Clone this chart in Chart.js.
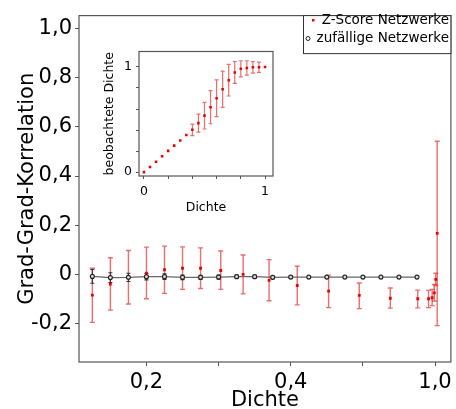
<!DOCTYPE html>
<html>
<head>
<meta charset="utf-8">
<script src="https://cdn.jsdelivr.net/npm/chart.js@4.4.0/dist/chart.umd.min.js"></script>
<style>
  body { margin: 0; background: #fff; }
  #wrap { position: relative; width: 456px; height: 409px; }
  #main { position: absolute; left: 0; top: 0; }
  #inset { position: absolute; left: 100px; top: 40px; }
</style>
</head>
<body>
<div id="wrap">
  <canvas id="main" width="456" height="409"></canvas>
  <canvas id="inset" width="180" height="180"></canvas>
</div>
<script>
// main plot: Z-Score networks (red) and random networks (black)
const redX = [0.125, 0.15, 0.175, 0.2, 0.225, 0.25, 0.275, 0.303, 0.334, 0.37, 0.409, 0.4525, 0.495, 0.538, 0.576, 0.591, 0.596, 0.599, 0.601, 0.603];
const redY = [-0.084, -0.039, -0.012, 0.005, 0.019, 0.025, 0.025, 0.016, 0, -0.024, -0.045, -0.068, -0.085, -0.097, -0.099, -0.099, -0.095, -0.075, -0.02, 0.167];
const redHi = [0.025, 0.068, 0.097, 0.111, 0.115, 0.112, 0.108, 0.095, 0.079, 0.06, 0.033, -0.003, -0.035, -0.055, -0.064, -0.065, -0.061, -0.041, 0.005, 0.541];
const redLo = [-0.195, -0.145, -0.12, -0.099, -0.077, -0.061, -0.057, -0.061, -0.079, -0.107, -0.124, -0.135, -0.139, -0.137, -0.136, -0.135, -0.127, -0.108, -0.045, -0.208];

const blackX = [0.125, 0.15, 0.175, 0.2, 0.225, 0.25, 0.275, 0.3, 0.325, 0.35, 0.375, 0.4, 0.425, 0.45, 0.475, 0.5, 0.525, 0.55, 0.575];
const blackY = [-0.008, -0.013, -0.012, -0.009, -0.009, -0.012, -0.012, -0.011, -0.009, -0.009, -0.012, -0.011, -0.011, -0.011, -0.011, -0.011, -0.011, -0.011, -0.011];
const blackErr = [0.028, 0.02, 0.017, 0.013, 0.011, 0.009, 0.008, 0.008, 0.006, 0.005, 0.005, 0.004, 0, 0, 0, 0, 0, 0, 0];

const xTickValues = [0.2, 0.3, 0.4, 0.5, 0.6];
const xTickLabels = ['0,2', '', '0,4', '', '1,0'];
const yTickValues = [-0.2, 0, 0.2, 0.4, 0.6, 0.8, 1.0];
const yTickLabels = ['-0,2', '0', '0,2', '0,4', '0,6', '0,8', '1,0'];

// inset: observed vs nominal density
const insetX = [0, 0.05, 0.1, 0.15, 0.2, 0.25, 0.3, 0.35, 0.4, 0.45, 0.5, 0.55, 0.6, 0.65, 0.7, 0.75, 0.8, 0.85, 0.9, 0.95, 1.0];
const insetY = [0, 0.049, 0.098, 0.15, 0.202, 0.252, 0.301, 0.353, 0.402, 0.466, 0.537, 0.617, 0.702, 0.788, 0.874, 0.948, 0.982, 0.991, 0.997, 0.997, 1.0];
const insetErr = [0, 0, 0, 0, 0, 0, 0, 0, 0.055, 0.085, 0.127, 0.157, 0.175, 0.172, 0.15, 0.104, 0.077, 0.068, 0.055, 0.049, 0];
const insetTickValues = [0, 0.2, 0.4, 0.6, 0.8, 1.0];
const insetTickLabels = ['0', '', '', '', '', '1'];

const FONT = 'DejaVu Sans';

const errorBars = {
  id: 'errorBars',
  beforeDatasetsDraw(chart, args, opts) {
    const {ctx, scales: {x, y}} = chart;
    ctx.save();
    opts.sets.forEach(s => {
      ctx.strokeStyle = s.color;
      ctx.lineWidth = s.width;
      s.x.forEach((xv, i) => {
        if (s.hi[i] === s.lo[i]) return;
        const px = x.getPixelForValue(xv);
        const top = y.getPixelForValue(s.hi[i]);
        const bot = y.getPixelForValue(s.lo[i]);
        ctx.beginPath();
        ctx.moveTo(px, top); ctx.lineTo(px, bot);
        ctx.moveTo(px - s.cap, top); ctx.lineTo(px + s.cap, top);
        ctx.moveTo(px - s.cap, bot); ctx.lineTo(px + s.cap, bot);
        ctx.stroke();
      });
    });
    ctx.restore();
  }
};

const frame = {
  id: 'frame',
  beforeDraw(chart) {
    const {ctx, chartArea: a} = chart;
    ctx.save();
    ctx.fillStyle = '#fff';
    ctx.fillRect(a.left, a.top, a.right - a.left, a.bottom - a.top);
    ctx.restore();
  },
  afterDraw(chart) {
    const {ctx, chartArea: a} = chart;
    ctx.save();
    ctx.strokeStyle = '#555';
    ctx.lineWidth = 1.2;
    ctx.strokeRect(a.left, a.top, a.right - a.left, a.bottom - a.top);
    ctx.restore();
  }
};

const boxLegend = {
  id: 'boxLegend',
  afterDraw(chart) {
    const {ctx, chartArea: a} = chart;
    ctx.save();
    ctx.fillStyle = '#fff';
    ctx.fillRect(303, a.top, a.right - 303, 38);
    ctx.strokeStyle = '#333';
    ctx.lineWidth = 1;
    ctx.strokeRect(303.5, a.top, a.right - 303.5, 38);
    ctx.font = '13.5px "' + FONT + '"';
    ctx.fillStyle = '#000';
    ctx.textAlign = 'right';
    ctx.textBaseline = 'middle';
    ctx.fillText('Z-Score Netzwerke', 449, 20);
    ctx.fillText('zufällige Netzwerke', 449, 38);
    ctx.fillStyle = '#e00';
    ctx.fillRect(312, 19, 2.5, 2.5);
    ctx.strokeStyle = '#222';
    ctx.beginPath();
    ctx.arc(308, 38.5, 2, 0, Math.PI * 2);
    ctx.stroke();
    ctx.restore();
  }
};

new Chart(document.getElementById('main'), {
  type: 'scatter',
  data: {
    datasets: [
      {
        label: 'Z-Score Netzwerke',
        data: redX.map((x, i) => ({x: x, y: redY[i]})),
        pointStyle: 'rect',
        pointRadius: 2,
        backgroundColor: '#e00',
        borderColor: '#e00',
        borderWidth: 0,
        order: 2
      },
      {
        label: 'zufällige Netzwerke',
        data: blackX.map((x, i) => ({x: x, y: blackY[i]})),
        showLine: true,
        borderColor: '#666',
        borderWidth: 1.1,
        pointStyle: 'circle',
        pointRadius: 2,
        pointBackgroundColor: '#ddd',
        pointBorderColor: '#222',
        pointBorderWidth: 1.1,
        order: 1
      }
    ]
  },
  options: {
    responsive: false,
    animation: false,
    layout: { padding: { left: 0, top: 10, right: 2, bottom: 0 } },
    plugins: {
      legend: { display: false },
      tooltip: { enabled: false },
      errorBars: {
        sets: [
          { x: redX, hi: redHi, lo: redLo, color: 'rgba(225,30,30,0.65)', width: 1.4, cap: 2.5 },
          { x: blackX, hi: blackY.map((v, i) => v + blackErr[i]), lo: blackY.map((v, i) => v - blackErr[i]), color: '#333', width: 1.1, cap: 2 }
        ]
      }
    },
    scales: {
      x: {
        type: 'linear',
        position: 'bottom',
        min: 0.1065,
        max: 0.622,
        afterBuildTicks: s => { s.ticks = xTickValues.map(v => ({value: v})); },
        afterFit: s => { s.height = 47; },
        ticks: {
          callback: (v, i) => xTickLabels[i],
          autoSkip: false,
          maxRotation: 0,
          padding: 4,
          color: '#000',
          font: { family: FONT, size: 21 }
        },
        grid: { drawOnChartArea: false, drawTicks: true, tickLength: 4, color: '#555' },
        border: { display: false },
        title: {
          display: true,
          text: 'Dichte',
          color: '#000',
          font: { family: FONT, size: 21, lineHeight: 0.8 },
          padding: { top: 0, bottom: 0 }
        }
      },
      y: {
        type: 'linear',
        min: -0.356,
        max: 1.052,
        afterBuildTicks: s => { s.ticks = yTickValues.map(v => ({value: v})); },
        afterFit: s => { s.width = 79; },
        ticks: {
          callback: (v, i) => yTickLabels[i],
          autoSkip: false,
          padding: 3,
          color: '#000',
          font: { family: FONT, size: 21 }
        },
        grid: { drawOnChartArea: false, drawTicks: true, tickLength: 4, color: '#555' },
        border: { display: false },
        title: {
          display: true,
          text: 'Grad-Grad-Korrelation',
          color: '#000',
          font: { family: FONT, size: 21, lineHeight: 1.2 },
          padding: { top: 15, bottom: 0 }
        }
      }
    }
  },
  plugins: [frame, errorBars, boxLegend]
});

new Chart(document.getElementById('inset'), {
  type: 'scatter',
  data: {
    datasets: [{
      data: insetX.map((x, i) => ({x: x, y: insetY[i]})),
      pointStyle: 'rect',
      pointRadius: 1.8,
      backgroundColor: '#e00',
      borderColor: '#e00',
      borderWidth: 0
    }]
  },
  options: {
    responsive: false,
    animation: false,
    layout: { padding: { left: 0, top: 7, right: 7, bottom: 0 } },
    plugins: {
      legend: { display: false },
      tooltip: { enabled: false },
      errorBars: {
        sets: [
          { x: insetX, hi: insetY.map((v, i) => v + insetErr[i]), lo: insetY.map((v, i) => v - insetErr[i]), color: 'rgba(225,30,30,0.65)', width: 1.2, cap: 2 }
        ]
      }
    },
    scales: {
      x: {
        type: 'linear',
        min: -0.041,
        max: 1.066,
        afterBuildTicks: s => { s.ticks = insetTickValues.map(v => ({value: v})); },
        afterFit: s => { s.height = 44; },
        ticks: {
          callback: (v, i) => insetTickLabels[i],
          autoSkip: false,
          maxRotation: 0,
          padding: 5,
          color: '#000',
          font: { family: FONT, size: 12.5 }
        },
        grid: { drawOnChartArea: false, drawTicks: true, tickLength: 3, color: '#555' },
        border: { display: false },
        title: {
          display: true,
          text: 'Dichte',
          color: '#000',
          font: { family: FONT, size: 12.5, lineHeight: 1.2 },
          padding: { top: 0, bottom: 4.5 }
        }
      },
      y: {
        type: 'linear',
        min: -0.037,
        max: 1.147,
        afterBuildTicks: s => { s.ticks = insetTickValues.map(v => ({value: v})); },
        afterFit: s => { s.width = 39; },
        ticks: {
          callback: (v, i) => insetTickLabels[i],
          autoSkip: false,
          padding: 4,
          color: '#000',
          font: { family: FONT, size: 12.5 }
        },
        grid: { drawOnChartArea: false, drawTicks: true, tickLength: 3, color: '#555' },
        border: { display: false },
        title: {
          display: true,
          text: 'beobachtete Dichte',
          color: '#000',
          font: { family: FONT, size: 12.5, lineHeight: 1.2 },
          padding: { top: 2.5, bottom: 0 }
        }
      }
    }
  },
  plugins: [frame, errorBars]
});
</script>
</body>
</html>
